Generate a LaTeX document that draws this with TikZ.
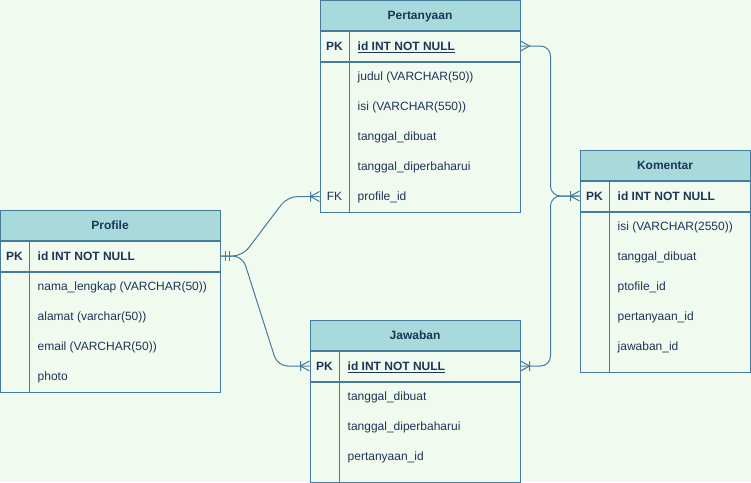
\documentclass[tikz,border=0pt]{standalone}
\usepackage{fontspec}
\setmainfont{Liberation Sans}
\usetikzlibrary{positioning}
\definecolor{bgpale}{HTML}{F1FAEE}
\definecolor{headteal}{HTML}{A8DADC}
\definecolor{edgeblue}{HTML}{457B9D}
\definecolor{inknavy}{HTML}{1D3557}

\begin{document}
\begin{tikzpicture}[x=1pt, y=-1pt,
  head/.style={fill=headteal, draw=edgeblue, line width=1pt, minimum height=30pt,
               inner sep=0pt, text height=11pt, text depth=2.4pt,
               font=\fontsize{12}{14}\selectfont\bfseries, text=inknavy},
  pkrow/.style={draw=edgeblue, line width=1pt, minimum height=30pt, inner sep=0pt},
  tbody/.style={draw=edgeblue, line width=1pt, inner sep=0pt},
  divider/.style={draw=edgeblue, line width=1pt},
  key/.style={font=\fontsize{12}{14}\selectfont, text=inknavy, inner sep=0pt,
              text height=11pt, text depth=2.4pt},
  field/.style={key, anchor=west},
  rel/.style={draw=edgeblue, line width=1pt, rounded corners=10pt},
  tipline/.style={draw=edgeblue, line width=1pt},
  pics/many/.style={code={\draw[tipline] (0,-5) -- (9,0) -- (0,5);}},
  pics/onemany/.style={code={\draw[tipline] (0,-5) -- (9,0) -- (0,5) (9,-5) -- (9,5);}},
  pics/mandone/.style={code={\draw[tipline] (4.5,-5) -- (4.5,5) (8.5,-5) -- (8.5,5);}}
]
\useasboundingbox[fill=bgpale] (0,0) rectangle (751,482);

\node[head, minimum width=200pt] (per) at (420,15) {Pertanyaan};
\node[pkrow, minimum width=200pt, below=0pt of per] (perpk) {};
\node[tbody, minimum width=200pt, minimum height=150pt, below=0pt of perpk] (perbody) {};
\draw[divider] ([xshift=30pt]perpk.north west) -- ([xshift=30pt]perbody.south west);
\node[key, font=\fontsize{12}{14}\selectfont\bfseries] (perkey) at ([xshift=15pt]perpk.west) {PK};
\node[field, font=\fontsize{12}{14}\selectfont\bfseries] (perid) at ([xshift=38pt]perpk.west) {\underline{id INT NOT NULL}};
\foreach \txt [count=\i] in {judul (VARCHAR(50)), isi (VARCHAR(550)), tanggal\_dibuat, tanggal\_diperbaharui, profile\_id}
  \node[field] (perr\i) at ([xshift=38pt, yshift={15pt-30pt*\i}]perbody.north west) {\txt};
\node[key] (perfkkey) at (perkey |- perr5) {FK};
\coordinate (perfk) at (perbody.west |- perr5);

\node[head, minimum width=220pt] (pro) at (110,225) {Profile};
\node[pkrow, minimum width=220pt, below=0pt of pro] (propk) {};
\node[tbody, minimum width=220pt, minimum height=120pt, below=0pt of propk] (probody) {};
\draw[divider] ([xshift=30pt]propk.north west) -- ([xshift=30pt]probody.south west);
\node[key, font=\fontsize{12}{14}\selectfont\bfseries] (prokey) at ([xshift=15pt]propk.west) {PK};
\node[field, font=\fontsize{12}{14}\selectfont\bfseries] (proid) at ([xshift=38pt]propk.west) {id INT NOT NULL};
\foreach \txt [count=\i] in {nama\_lengkap (VARCHAR(50)), alamat (varchar(50)), email (VARCHAR(50)), photo}
  \node[field] (pror\i) at ([xshift=38pt, yshift={15pt-30pt*\i}]probody.north west) {\txt};

\node[head, minimum width=210pt] (jaw) at (415,335) {Jawaban};
\node[pkrow, minimum width=210pt, below=0pt of jaw] (jawpk) {};
\node[tbody, minimum width=210pt, minimum height=100pt, below=0pt of jawpk] (jawbody) {};
\draw[divider] ([xshift=30pt]jawpk.north west) -- ([xshift=30pt]jawbody.south west);
\node[key, font=\fontsize{12}{14}\selectfont\bfseries] (jawkey) at ([xshift=15pt]jawpk.west) {PK};
\node[field, font=\fontsize{12}{14}\selectfont\bfseries] (jawid) at ([xshift=38pt]jawpk.west) {\underline{id INT NOT NULL}};
\foreach \txt [count=\i] in {tanggal\_dibuat, tanggal\_diperbaharui, pertanyaan\_id}
  \node[field] (jawr\i) at ([xshift=38pt, yshift={15pt-30pt*\i}]jawbody.north west) {\txt};

\node[head, minimum width=170pt] (kom) at (665,165) {Komentar};
\node[pkrow, minimum width=170pt, below=0pt of kom] (kompk) {};
\node[tbody, minimum width=170pt, minimum height=160pt, below=0pt of kompk] (kombody) {};
\draw[divider] ([xshift=30pt]kompk.north west) -- ([xshift=30pt]kombody.south west);
\node[key, font=\fontsize{12}{14}\selectfont\bfseries] (komkey) at ([xshift=15pt]kompk.west) {PK};
\node[field, font=\fontsize{12}{14}\selectfont\bfseries] (komid) at ([xshift=38pt]kompk.west) {id INT NOT NULL};
\foreach \txt [count=\i] in {isi (VARCHAR(2550)), tanggal\_dibuat, ptofile\_id, pertanyaan\_id, jawaban\_id}
  \node[field] (komr\i) at ([xshift=38pt, yshift={15pt-30pt*\i}]kombody.north west) {\txt};

\draw[rel] (propk.east) -- ++(22,0) -- ([xshift=-32pt]perfk) -- (perfk);
\draw[rel] (propk.east) -- ++(22,0) -- ([xshift=-32pt]jawpk.west) -- (jawpk.west);
\draw[rel] (perpk.east) -- ++(30,0) |- (kompk.west);
\draw[rel] (jawpk.east) -- ++(30,0) |- (kompk.west);

\pic at (propk.east) {mandone};
\pic[xscale=-1] at (perfk) {onemany};
\pic[xscale=-1] at (jawpk.west) {onemany};
\pic at (perpk.east) {many};
\pic at (jawpk.east) {onemany};
\pic[xscale=-1] at (kompk.west) {onemany};

\end{tikzpicture}
\end{document}
